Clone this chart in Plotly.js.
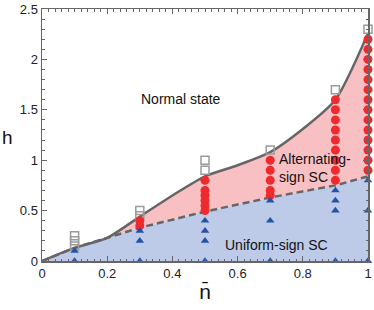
<!DOCTYPE html>
<html>
<head>
<meta charset="utf-8">
<script src="https://cdn.plot.ly/plotly-3.0.1.min.js"></script>
<style>html,body{margin:0;padding:0;background:#fff;}#chart{width:374px;height:310px;}</style>
</head>
<body>
<div id="chart"></div>
<script>
// Phase boundaries
const upperN = [0, 0.1, 0.2, 0.3, 0.4, 0.5, 0.6, 0.7, 0.8, 0.9, 1.0];
const upperH = [0, 0.13, 0.23, 0.44, 0.65, 0.84, 0.95, 1.08, 1.31, 1.6, 2.26];
const lowerN = [0, 0.1, 0.2, 0.3, 0.5, 0.7, 0.9, 1.0];
const lowerH = [0, 0.13, 0.23, 0.33, 0.49, 0.63, 0.75, 0.84];

// Normal state (open squares)
const normalN = [0.1, 0.1, 0.1, 0.3, 0.3, 0.5, 0.5, 0.7, 0.9, 1.0];
const normalH = [0.25, 0.2, 0.15, 0.5, 0.45, 1.0, 0.9, 1.1, 1.7, 2.3];

// Alternating-sign SC (red circles)
const altN = [0.3, 0.3,
  0.5, 0.5, 0.5, 0.5, 0.5, 0.5,
  0.7, 0.7, 0.7, 0.7, 0.7,
  0.9, 0.9, 0.9, 0.9, 0.9, 0.9, 0.9, 0.9, 0.9,
  1, 1, 1, 1, 1, 1, 1, 1, 1, 1, 1, 1, 1, 1];
const altH = [0.4, 0.35,
  0.8, 0.7, 0.65, 0.6, 0.55, 0.5,
  1.0, 0.9, 0.8, 0.7, 0.65,
  1.6, 1.5, 1.4, 1.3, 1.2, 1.1, 1.0, 0.9, 0.8,
  2.2, 2.1, 2.0, 1.9, 1.8, 1.7, 1.6, 1.5, 1.4, 1.3, 1.2, 1.1, 1.0, 0.9];

// Uniform-sign SC (triangles)
const uniN = [0.1, 0.1, 0.3, 0.3, 0.3, 0.5, 0.5, 0.5, 0.5, 0.7, 0.7, 0.7, 0.9, 0.9, 0.9, 0.9, 1, 1, 1];
const uniH = [0.1, 0, 0.3, 0.2, 0, 0.4, 0.3, 0.2, 0, 0.6, 0.4, 0, 0.7, 0.6, 0.5, 0, 0.8, 0.5, 0];

const xTicks = [0, 0.2, 0.4, 0.6, 0.8, 1];
const xTickText = ['0', '0.2', '0.4', '0.6', '0.8', '1'];
const yTicks = [0, 0.5, 1, 1.5, 2, 2.5];
const yTickText = ['0', '0.5', '1', '1.5', '2', '2.5'];

const lineCol = '#666666';
const traces = [
  {x: lowerN, y: lowerH, mode: 'lines', fill: 'tozeroy', fillcolor: 'rgb(189,203,233)',
   line: {color: lineCol, width: 2.5, dash: '7px,4px'}, hoverinfo: 'skip'},
  {x: upperN, y: upperH, mode: 'lines', fill: 'tonexty', fillcolor: 'rgb(249,192,196)',
   line: {color: lineCol, width: 2.5, shape: 'spline', smoothing: 0.7}, hoverinfo: 'skip'},
  {x: normalN, y: normalH, mode: 'markers', cliponaxis: false,
   marker: {symbol: 'square-open', size: 8, color: '#9a9a9a', line: {width: 1.5, color: '#9a9a9a'}}},
  {x: altN, y: altH, mode: 'markers', cliponaxis: false,
   marker: {symbol: 'circle', size: 9, color: '#ee2a2e'}},
  {x: uniN, y: uniH, mode: 'markers', cliponaxis: false,
   marker: {symbol: 'triangle-up', size: 7.5, color: '#2453a6'}}
];

const axisCommon = {
  showline: true, linecolor: lineCol, linewidth: 1.5, mirror: 'allticks',
  ticks: 'inside', tickcolor: lineCol, ticklen: 5, tickwidth: 1,
  showgrid: false, zeroline: false,
  tickfont: {family: 'Liberation Sans, Arial, sans-serif', size: 13, color: '#222'}
};

const layout = {
  width: 374, height: 310,
  margin: {l: 42, r: 6, t: 9, b: 49},
  paper_bgcolor: '#fff', plot_bgcolor: '#fff',
  showlegend: false,
  font: {family: 'Liberation Sans, Arial, sans-serif', color: '#111'},
  xaxis: Object.assign({}, axisCommon, {
    range: [0, 1], tickvals: xTicks, ticktext: xTickText,
    minor: {dtick: 0.02, ticks: 'inside', ticklen: 2.5, tickcolor: lineCol, tickwidth: 1},
    title: {text: 'n\u0304', font: {size: 21, color: '#111'}, standoff: 4}
  }),
  yaxis: Object.assign({}, axisCommon, {
    range: [0, 2.5], tickvals: yTicks, ticktext: yTickText,
    minor: {dtick: 0.1, ticks: 'inside', ticklen: 2.5, tickcolor: lineCol, tickwidth: 1}
  }),
  annotations: [
    {xref: 'paper', yref: 'y', x: -0.105, y: 1.23, text: 'h', showarrow: false,
     font: {size: 19, color: '#111'}, xanchor: 'center', yanchor: 'middle'},
    {x: 0.426, y: 1.61, text: 'Normal state', showarrow: false,
     font: {size: 14, color: '#111'}},
    {x: 0.72, y: 0.92, text: 'Alternating-<br>sign SC', showarrow: false, align: 'left',
     xanchor: 'left', font: {size: 14, color: '#111'}},
    {x: 0.72, y: 0.16, text: 'Uniform-sign SC', showarrow: false,
     font: {size: 14, color: '#111'}}
  ]
};

Plotly.newPlot('chart', traces, layout, {displayModeBar: false, staticPlot: true});
</script>
</body>
</html>
